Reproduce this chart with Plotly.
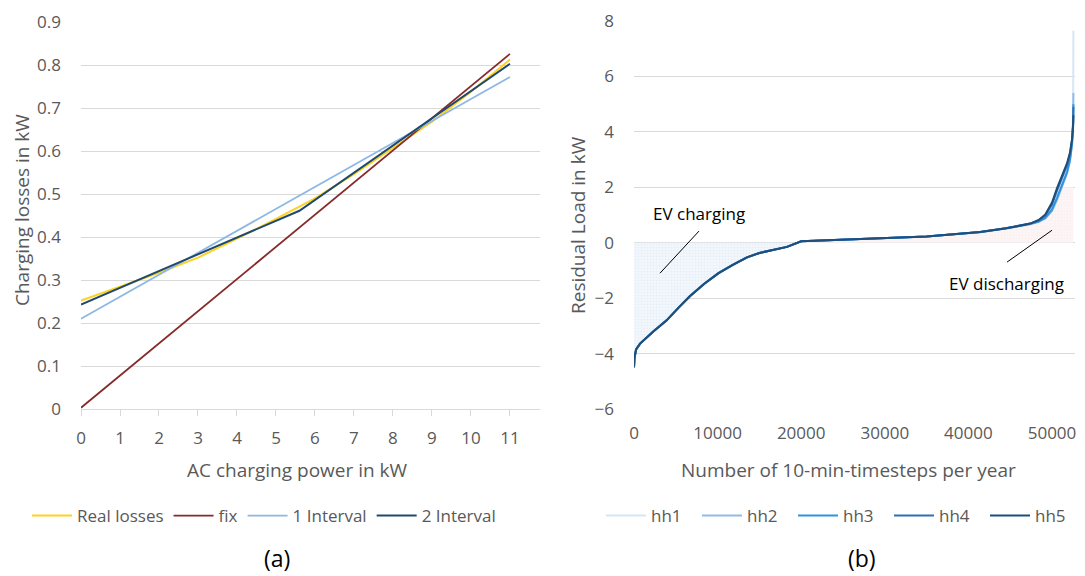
import plotly.graph_objects as go

# ---------- (a) charging losses ----------
ac_power = [0, 1, 2, 3, 4, 5, 6, 7, 8, 9, 10, 11]
real_losses = [0.252, 0.284, 0.317, 0.352, 0.396, 0.442, 0.490, 0.546, 0.606, 0.668, 0.738, 0.813]
fix_power = [0, 11]
fix_losses = [0.003, 0.826]
one_interval_power = [0, 11]
one_interval_losses = [0.210, 0.772]
two_interval_power = [0, 5.6, 11]
two_interval_losses = [0.243, 0.461, 0.803]

# ---------- (b) residual load duration curves ----------
timesteps = [0, 60, 250, 720, 2300, 3900, 5300, 6700, 8400, 10100, 11800, 13500, 15000,
             16500, 18300, 20000, 25000, 29400, 35000, 41400, 44500, 47400, 48400, 49200,
             50000, 50600, 51200, 51800, 52150, 52400, 52520, 52555, 52560]
hh1 = [-4.47, -4.14, -3.84, -3.63, -3.19, -2.79, -2.34, -1.91, -1.47, -1.09, -0.79, -0.52, -0.36,
       -0.25, -0.14, 0.05, 0.10, 0.15, 0.22, 0.38, 0.51, 0.67, 0.76, 0.90, 1.20, 1.65, 2.10, 2.60,
       3.05, 3.70, 4.60, 6.50, 7.65]
hh2 = [-4.48, -4.15, -3.85, -3.64, -3.20, -2.80, -2.35, -1.92, -1.48, -1.10, -0.80, -0.53, -0.37,
       -0.26, -0.15, 0.05, 0.10, 0.15, 0.22, 0.38, 0.51, 0.67, 0.75, 0.88, 1.15, 1.55, 2.00, 2.50,
       2.95, 3.60, 4.30, 5.00, 5.40]
hh3 = [-4.49, -4.15, -3.85, -3.64, -3.20, -2.80, -2.35, -1.92, -1.48, -1.10, -0.80, -0.53, -0.37,
       -0.26, -0.15, 0.05, 0.10, 0.15, 0.22, 0.39, 0.52, 0.68, 0.76, 0.90, 1.20, 1.62, 2.05, 2.55,
       3.00, 3.55, 4.20, 4.70, 5.00]
hh4 = [-4.50, -4.16, -3.86, -3.65, -3.21, -2.81, -2.36, -1.93, -1.49, -1.11, -0.81, -0.54, -0.37,
       -0.26, -0.15, 0.05, 0.10, 0.15, 0.22, 0.39, 0.52, 0.69, 0.80, 0.98, 1.38, 1.88, 2.33, 2.80,
       3.20, 3.70, 4.30, 4.70, 4.90]
hh5 = [-4.49, -4.15, -3.85, -3.64, -3.20, -2.80, -2.35, -1.92, -1.48, -1.10, -0.80, -0.53, -0.37,
       -0.26, -0.15, 0.05, 0.10, 0.15, 0.22, 0.39, 0.52, 0.69, 0.82, 1.02, 1.45, 1.97, 2.40, 2.87,
       3.25, 3.75, 4.20, 4.50, 4.60]
households = ["hh1", "hh2", "hh3", "hh4", "hh5"]
hh_colors = ["#d6e6f5", "#8fbbe6", "#2f93e0", "#2e6fb5", "#1f4e79"]

x_ticks_b = [0, 10000, 20000, 30000, 40000, 50000]

GRID = "#d9d9d9"
TXT = "#595959"
FONT = "Open Sans"

fig = go.Figure()

# ---- panel (a) lines ----
fig.add_trace(go.Scatter(x=ac_power, y=real_losses, name="Real losses", mode="lines",
                         line=dict(color="#ffd21f", width=2), xaxis="x", yaxis="y", legend="legend"))
fig.add_trace(go.Scatter(x=fix_power, y=fix_losses, name="fix", mode="lines",
                         line=dict(color="#862a2a", width=1.8), xaxis="x", yaxis="y", legend="legend"))
fig.add_trace(go.Scatter(x=one_interval_power, y=one_interval_losses, name="1 Interval", mode="lines",
                         line=dict(color="#8db8e3", width=1.8), xaxis="x", yaxis="y", legend="legend"))
fig.add_trace(go.Scatter(x=two_interval_power, y=two_interval_losses, name="2 Interval", mode="lines",
                         line=dict(color="#1f4a6e", width=2), xaxis="x", yaxis="y", legend="legend"))

# ---- panel (b) shaded regions ----
split = timesteps.index(20000)
fig.add_trace(go.Scatter(x=timesteps[:split + 1], y=hh5[:split + 1], mode="lines", fill="tozeroy",
                         fillcolor="rgba(238,244,251,0.9)", line=dict(width=0),
                         fillpattern=dict(shape=".", fgcolor="rgba(214,228,243,0.9)",
                                          bgcolor="rgba(244,248,252,1)", size=3, solidity=0.4),
                         hoverinfo="skip", showlegend=False, xaxis="x2", yaxis="y2"))
fig.add_trace(go.Scatter(x=timesteps[split:], y=[min(v, 2.0) for v in hh3[split:]], mode="lines",
                         fill="tozeroy", fillcolor="rgba(252,242,242,0.9)", line=dict(width=0),
                         fillpattern=dict(shape=".", fgcolor="rgba(246,226,226,0.9)",
                                          bgcolor="rgba(253,247,247,1)", size=3, solidity=0.4),
                         hoverinfo="skip", showlegend=False, xaxis="x2", yaxis="y2"))

# ---- panel (b) duration curves ----
for name, vals, col in zip(households, [hh1, hh2, hh3, hh4, hh5], hh_colors):
    fig.add_trace(go.Scatter(x=timesteps, y=vals, name=name, mode="lines",
                             line=dict(color=col, width=2), xaxis="x2", yaxis="y2", legend="legend2"))

W, H = 1085, 576


def px_x(p):
    return p / W


def px_y(p):
    return (H - p) / H


tick_font = dict(family=FONT, size=17, color=TXT)
legend_font = dict(family=FONT, size=17, color=TXT)
title_font = dict(family=FONT, size=19, color=TXT)

fig.update_layout(
    width=W, height=H,
    margin=dict(l=0, r=0, t=0, b=0, autoexpand=False),
    paper_bgcolor="white", plot_bgcolor="white",
    font=dict(family=FONT, color=TXT),
    xaxis=dict(domain=[px_x(81), px_x(540)], range=[0, 11.77], dtick=1, tick0=0,
               showgrid=False, zeroline=False, showline=True, linecolor=GRID, linewidth=1,
               ticks="outside", ticklen=6, tickcolor=GRID, tickfont=tick_font,
               anchor="y", ticklabelstandoff=8),
    yaxis=dict(domain=[px_y(409), px_y(22)], range=[0, 0.9], dtick=0.1, tick0=0,
               showgrid=True, gridcolor=GRID, zeroline=False, showline=False,
               tickfont=tick_font, anchor="x", ticklabelstandoff=19),
    xaxis2=dict(domain=[px_x(634), px_x(1075)], range=[0, 52750], tickvals=x_ticks_b,
                ticktext=[str(v) for v in x_ticks_b],
                showgrid=False, zeroline=False, showline=False, ticks="",
                tickfont=tick_font, anchor="y2", ticklabelstandoff=12),
    xaxis3=dict(domain=[px_x(634), px_x(1075)], range=[0, 52750], tickvals=x_ticks_b,
                showticklabels=False, showgrid=False, zeroline=False, showline=True,
                linecolor=GRID, linewidth=1, ticks="outside", ticklen=6, tickcolor=GRID,
                anchor="free", overlaying="x2", side="bottom",
                position=px_y(409) + (6 / 14) * (px_y(21) - px_y(409))),
    yaxis2=dict(domain=[px_y(409), px_y(21)], range=[-6, 8], dtick=2, tick0=0,
                showgrid=True, gridcolor=GRID, zeroline=False, showline=False,
                tickfont=tick_font, anchor="x2", ticklabelstandoff=19),
    legend=dict(orientation="h", x=px_x(27), y=px_y(516), xanchor="left", yanchor="middle",
                font=legend_font, bgcolor="rgba(0,0,0,0)", itemwidth=40),
    legend2=dict(orientation="h", x=px_x(601), y=px_y(516), xanchor="left", yanchor="middle",
                 font=legend_font, bgcolor="rgba(0,0,0,0)", itemwidth=40,
                 entrywidth=41, entrywidthmode="pixels"),
    showlegend=True,
)

annotations = [
    dict(text="Charging losses in kW", x=px_x(22), y=px_y(210), textangle=-90, font=title_font),
    dict(text="AC charging power in kW", x=px_x(297), y=px_y(470), font=title_font),
    dict(text="Residual Load in kW", x=px_x(578), y=px_y(225), textangle=-90, font=title_font),
    dict(text="Number of 10-min-timesteps per year", x=px_x(848), y=px_y(470), font=title_font),
    dict(text="(a)", x=px_x(277), y=px_y(558), font=dict(family=FONT, size=23, color="black")),
    dict(text="(b)", x=px_x(862), y=px_y(558), font=dict(family=FONT, size=23, color="black")),
]
for a in annotations:
    a.update(xref="paper", yref="paper", showarrow=False, xanchor="center", yanchor="middle")

# callout labels inside panel (b)
annotations += [
    dict(text="EV charging", x=7750, y=1.07, xref="x2", yref="y2", showarrow=False,
         font=dict(family=FONT, size=17, color="black")),
    dict(text="EV discharging", x=44500, y=-1.46, xref="x2", yref="y2", showarrow=False,
         font=dict(family=FONT, size=17, color="black")),
]
fig.update_layout(annotations=annotations)

fig.add_shape(type="line", xref="x2", yref="y2", x0=7775, y0=0.42, x1=3110, y1=-1.10,
              line=dict(color="black", width=1))
fig.add_shape(type="line", xref="x2", yref="y2", x0=50000, y0=0.45, x1=44620, y1=-0.70,
              line=dict(color="black", width=1))

fig.write_html("out.html")
